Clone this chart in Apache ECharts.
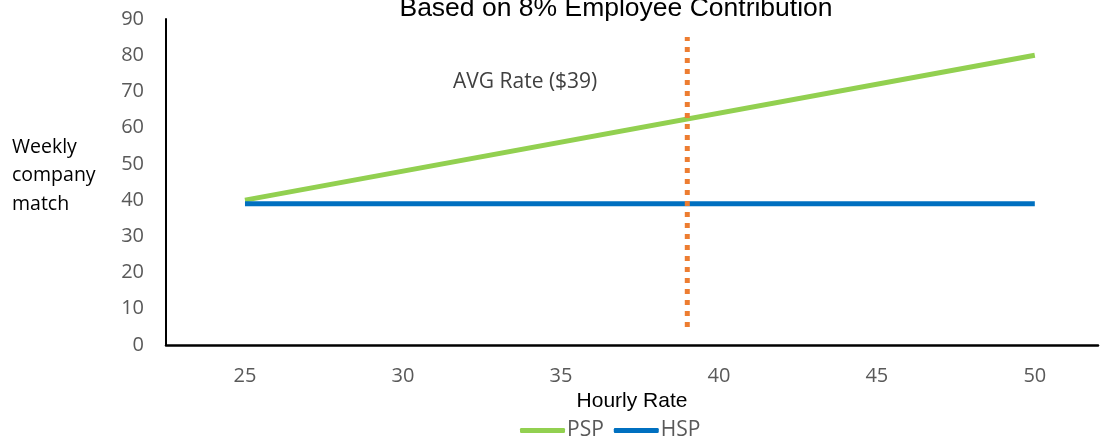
<!DOCTYPE html>
<html><head><meta charset="utf-8">
<script src="https://cdn.jsdelivr.net/npm/echarts@6/dist/echarts.min.js"></script>
<style>html,body{margin:0;padding:0;background:#fff}#c{width:1100px;height:439px}</style>
</head><body><div id="c"></div>
<script>
const hourlyRates = [25, 50];
const pspValues = [40, 80];
const hspValues = [39, 39];
const avgRate = 39;
const avgLineRange = [5, 85];
const xTicks = [25, 30, 35, 40, 45, 50];
const titleText = 'Based on 8% Employee Contribution';
const avgLabel = 'AVG Rate ($39)';

const chart = echarts.init(document.getElementById('c'), null, {renderer: 'canvas'});
chart.setOption({
  animation: false,
  backgroundColor: '#fff',
  grid: {left: 166, right: 2, top: 19, bottom: 94, containLabel: false},
  graphic: [
    {type: 'text', style: {text: titleText, x: 616, y: 9, align: 'center', verticalAlign: 'middle', font: '26.5px "Liberation Sans", Arial', fill: '#000'}},
    {type: 'text', style: {text: 'Weekly\ncompany\nmatch', x: 12, y: 133, font: '19.5px "Open Sans"', lineHeight: 28.5, fill: '#000'}},
    {type: 'text', style: {text: avgLabel, x: 453, y: 82, verticalAlign: 'middle', font: '21px "Open Sans"', fill: '#404040'}}
  ],
  xAxis: {
    type: 'value', min: 22.5, max: 52,
    axisLine: {show: true, onZero: false, lineStyle: {color: '#000', width: 2.5}},
    axisTick: {show: false}, splitLine: {show: false},
    axisLabel: {customValues: xTicks, color: '#595959', fontSize: 20, fontFamily: '"Open Sans"', margin: 21},
    name: 'Hourly Rate', nameLocation: 'middle', nameGap: 37,
    nameTextStyle: {color: '#000', fontSize: 21, fontFamily: '"Liberation Sans", Arial'}
  },
  yAxis: {
    type: 'value', min: 0, max: 90, interval: 10,
    axisLine: {show: true, lineStyle: {color: '#000', width: 2}},
    axisTick: {show: false}, splitLine: {show: false},
    axisLabel: {color: '#595959', fontSize: 20, fontFamily: '"Open Sans"', margin: 22}
  },
  legend: {
    data: ['PSP', 'HSP'], left: 520, top: 420,
    padding: 0,
    icon: 'roundRect', itemWidth: 45, itemHeight: 5, itemGap: 10,
    textStyle: {color: '#595959', fontSize: 21, fontFamily: '"Open Sans"', padding: [0, 0, 0, -3]}
  },
  series: [
    {name: 'PSP', type: 'line', showSymbol: false, symbol: 'none',
     data: hourlyRates.map((x, i) => [x, pspValues[i]]),
     lineStyle: {color: '#92D050', width: 5}, itemStyle: {color: '#92D050'}},
    {name: 'HSP', type: 'line', showSymbol: false, symbol: 'none',
     data: hourlyRates.map((x, i) => [x, hspValues[i]]),
     lineStyle: {color: '#0070C0', width: 5}, itemStyle: {color: '#0070C0'}},
    {name: 'AVG', type: 'line', showSymbol: false, symbol: 'none',
     data: avgLineRange.map(v => [avgRate, v]),
     lineStyle: {color: '#ED7D31', width: 5, type: [5, 6], cap: 'butt'}}
  ]
});
</script></body></html>
